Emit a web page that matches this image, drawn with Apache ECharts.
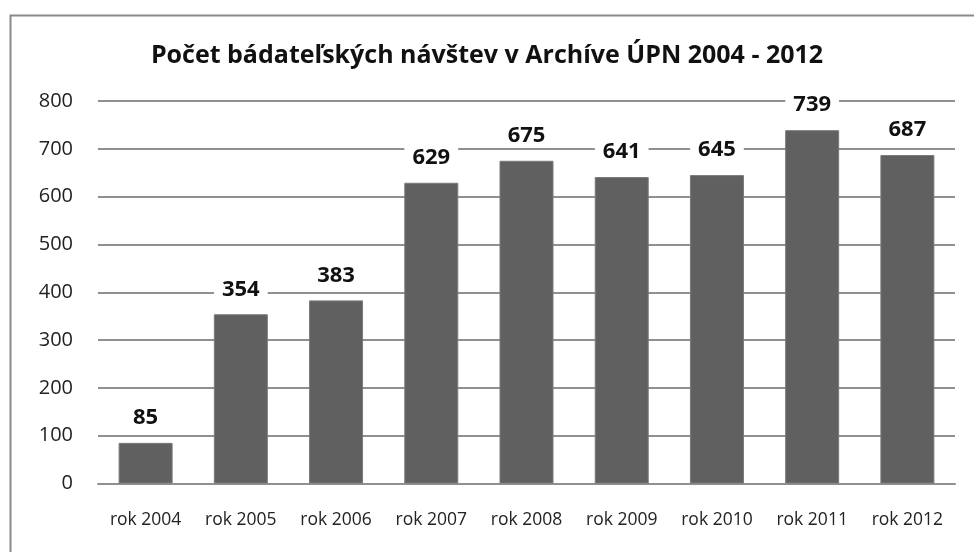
<!DOCTYPE html>
<html>
<head>
<meta charset="utf-8">
<script src="https://cdn.jsdelivr.net/npm/echarts@6/dist/echarts.min.js"></script>
<style>
  html, body { margin: 0; padding: 0; background: #fff; }
  #main { width: 974px; height: 552px; }
</style>
</head>
<body>
<div id="main"></div>
<script>
var years = ['rok 2004', 'rok 2005', 'rok 2006', 'rok 2007', 'rok 2008', 'rok 2009', 'rok 2010', 'rok 2011', 'rok 2012'];
var visits = [85, 354, 383, 629, 675, 641, 645, 739, 687];
var yTicks = [0, 100, 200, 300, 400, 500, 600, 700, 800];

var chartDom = document.getElementById('main');
var myChart = echarts.init(chartDom);
var font = '"Open Sans", sans-serif';

var option = {
    animation: false,
    backgroundColor: '#fff',
    graphic: [
        {
            type: 'rect',
            left: 8,
            top: 13,
            shape: { width: 990, height: 570 },
            style: { fill: 'none', stroke: '#8a8a8a', lineWidth: 2 },
            silent: true
        }
    ],
    title: {
        text: 'Počet bádateľských návštev v Archíve ÚPN 2004 - 2012',
        left: 'center',
        top: 38,
        textStyle: {
            fontFamily: font,
            fontSize: 25,
            fontWeight: 'bold',
            color: '#111'
        }
    },
    grid: {
        left: 98,
        right: 19,
        top: 101,
        height: 382.5,
        containLabel: false
    },
    xAxis: {
        type: 'category',
        data: years,
        axisLine: { lineStyle: { color: '#909090', width: 2 } },
        axisTick: { show: false },
        axisLabel: {
            interval: 0,
            margin: 28,
            fontFamily: font,
            fontSize: 17.5,
            color: '#222'
        }
    },
    yAxis: {
        type: 'value',
        min: yTicks[0],
        max: yTicks[yTicks.length - 1],
        interval: yTicks[1] - yTicks[0],
        axisLine: { show: false },
        axisTick: { show: false },
        splitLine: { lineStyle: { color: '#909090', width: 2 } },
        axisLabel: {
            margin: 25,
            fontFamily: font,
            fontSize: 20,
            color: '#222'
        }
    },
    series: [
        {
            type: 'bar',
            data: visits,
            barWidth: 54,
            itemStyle: {
                color: '#606060',
                borderColor: '#7a7a7a',
                borderWidth: 1
            },
            label: {
                show: true,
                position: 'top',
                distance: 14,
                fontFamily: font,
                fontSize: 22,
                fontWeight: 'bold',
                color: '#111',
                backgroundColor: '#fff',
                padding: [0, 8]
            }
        }
    ]
};

option && myChart && myChart.setOption(option);
</script>
</body>
</html>
